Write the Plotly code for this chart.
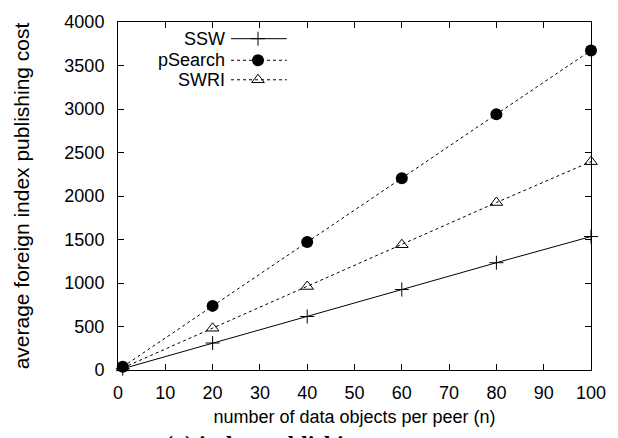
import plotly.graph_objects as go

n_values = [1, 20, 40, 60, 80, 100]
ssw = [15, 310, 615, 925, 1233, 1534]
psearch = [37, 737, 1470, 2205, 2940, 3673]
swri = [24, 480, 960, 1440, 1925, 2395]
series_names = ["SSW", "pSearch", "SWRI"]
x_ticks = [0, 10, 20, 30, 40, 50, 60, 70, 80, 90, 100]
y_ticks = [0, 500, 1000, 1500, 2000, 2500, 3000, 3500, 4000]

FONT = "Liberation Sans, Arial, Helvetica, sans-serif"

styles = {
    "SSW": dict(line=dict(color="black", width=1, dash="solid"),
                marker=dict(symbol="cross-thin-open", size=10, color="black",
                            line=dict(color="black", width=1))),
    "pSearch": dict(line=dict(color="black", width=1, dash="dot"),
                    marker=dict(symbol="circle", size=12, color="black")),
    "SWRI": dict(line=dict(color="black", width=1, dash="dot"),
                 marker=dict(symbol="triangle-up-open", size=11, color="black",
                             line=dict(color="black", width=1))),
}

fig = go.Figure()
for name, ys in zip(series_names, [ssw, psearch, swri]):
    fig.add_trace(go.Scatter(x=n_values, y=ys, mode="lines+markers", name=name,
                             showlegend=False, cliponaxis=False, **styles[name]))

# custom gnuplot-style legend on an overlay axis (0..1 in both directions)
leg_rows = [0.952, 0.890, 0.834]
for name, yy in zip(series_names, leg_rows):
    st = styles[name]
    fig.add_trace(go.Scatter(x=[0.239, 0.357], y=[yy, yy], mode="lines", line=st["line"],
                             xaxis="x2", yaxis="y2", showlegend=False, hoverinfo="skip"))
    fig.add_trace(go.Scatter(x=[0.296], y=[yy], mode="markers", marker=st["marker"],
                             xaxis="x2", yaxis="y2", showlegend=False, hoverinfo="skip"))
    fig.add_annotation(x=0.231, y=yy, xref="x2", yref="y2", text=name, showarrow=False,
                       xanchor="right", yanchor="middle",
                       font=dict(family=FONT, size=18, color="black"))

fig.add_annotation(x=0.0945, y=-0.170, xref="paper", yref="paper",
                   text="<b>(a) index publishing cost</b>", showarrow=False,
                   xanchor="left", yanchor="top",
                   font=dict(family="Liberation Serif, serif", size=24, color="black"))

axis_common = dict(showline=True, linecolor="black", linewidth=1, mirror="ticks",
                   ticks="inside", ticklen=6, tickcolor="black", showgrid=False,
                   zeroline=False, tickfont=dict(family=FONT, size=18, color="black"))

fig.update_layout(
    width=618, height=438,
    margin=dict(l=118, r=24, t=15, b=68),
    paper_bgcolor="white", plot_bgcolor="white",
    xaxis=dict(range=[0, 100], tickvals=x_ticks, ticklabelstandoff=6,
               title=dict(text="number of data objects per peer (n)", standoff=8,
                          font=dict(family=FONT, size=18, color="black")),
               **axis_common),
    yaxis=dict(range=[0, 4000], tickvals=y_ticks, ticklabelstandoff=9,
               title=dict(text="average foreign index publishing cost", standoff=29,
                          font=dict(family=FONT, size=21, color="black")),
               **axis_common),
    xaxis2=dict(range=[0, 1], overlaying="x", visible=False, fixedrange=True),
    yaxis2=dict(range=[0, 1], overlaying="y", visible=False, fixedrange=True),
    showlegend=False,
)

fig.write_html("out.html", config={"displayModeBar": False},
               post_script="document.body.style.margin='0';")
